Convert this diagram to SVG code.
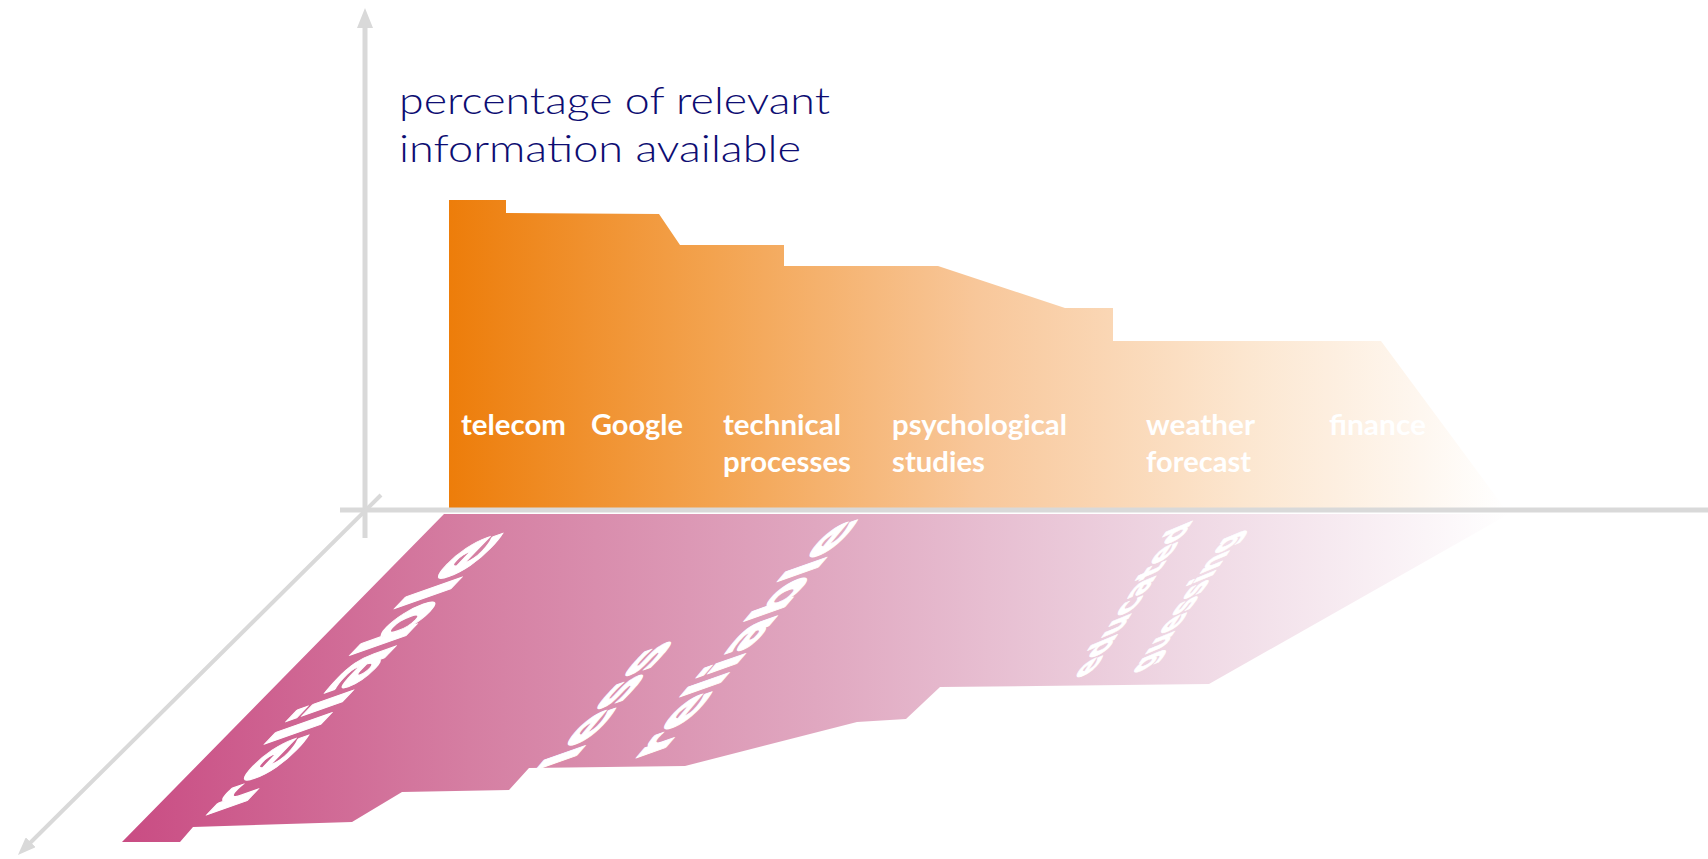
<svg xmlns="http://www.w3.org/2000/svg" width="1708" height="859" viewBox="0 0 1708 859">
<style>
.axis{stroke:#D9D9D9;fill:none;}
.lbl{font-family:Lato,"Liberation Sans",sans-serif;font-weight:700;font-size:29px;fill:#FFFFFF;}
.ttl{font-family:Lato,"Liberation Sans",sans-serif;font-weight:300;font-size:38px;fill:#0D0D72;}
.flr{font-family:"DejaVu Sans","Liberation Sans",sans-serif;font-weight:700;font-size:100px;fill:#FFFFFF;stroke:#FFFFFF;stroke-width:2.5;stroke-linejoin:round;}
</style>
<defs>
<linearGradient id="gOrange" gradientUnits="userSpaceOnUse" x1="449" y1="0" x2="1506" y2="0">
<stop offset="0" stop-color="#ED7D0A"/>
<stop offset="0.25" stop-color="#F3A34F"/>
<stop offset="0.5" stop-color="#F8C79A"/>
<stop offset="0.75" stop-color="#FCE6CF"/>
<stop offset="1" stop-color="#FFFFFF"/>
</linearGradient>
<linearGradient id="gPink" gradientUnits="userSpaceOnUse" x1="122" y1="0" x2="1509" y2="0">
<stop offset="0" stop-color="#C94C83"/>
<stop offset="0.25" stop-color="#D57EA2"/>
<stop offset="0.5" stop-color="#E0A7C0"/>
<stop offset="0.75" stop-color="#EED5E2"/>
<stop offset="1" stop-color="#FFFFFF"/>
</linearGradient>
<marker id="ahV" viewBox="0 0 20 16" refX="1" refY="8" markerWidth="20" markerHeight="16" markerUnits="userSpaceOnUse" orient="auto">
<path d="M0,0 L20,8 L0,16 Z" fill="#D9D9D9"/>
</marker>
<marker id="ahD" viewBox="0 0 18 14" refX="1" refY="7" markerWidth="18" markerHeight="14" markerUnits="userSpaceOnUse" orient="auto">
<path d="M0,0 L18,7 L0,14 Z" fill="#D9D9D9"/>
</marker>
</defs>
<rect x="0" y="0" width="1708" height="859" fill="#FFFFFF"/>

<g id="floor">
<polygon points="444,514 1509,514 1209,684 940,687 906,719 857,722 685,766 529,768 509,790 402,792 352,822 193,827 180,842 122,842" fill="url(#gPink)"/>
<text class="flr" x="0" y="0" transform="matrix(0.627,-0.652,0.738,-0.258,242,806)">reliable</text>
<text class="flr" x="0" y="0" transform="matrix(0.47,-0.555,0.54,-0.19,573,760)">less</text>
<text class="flr" x="0" y="0" transform="matrix(0.47,-0.555,0.54,-0.19,662,752)">reliable</text>
<text class="flr" x="0" y="0" transform="matrix(0.195,-0.295,0.35,-0.145,1092,673)">educated</text>
<text class="flr" x="0" y="0" transform="matrix(0.186,-0.275,0.35,-0.145,1150,668)">guessing</text>
</g>

<g id="profile">
<polygon points="449,200 506,200 506,213 659,214 680,245 784,245 784,266 938,266 1065,308 1113,308 1113,341 1381,341 1506,510 449,510" fill="url(#gOrange)"/>
<text class="lbl" x="461" y="435" textLength="105" lengthAdjust="spacingAndGlyphs">telecom</text>
<text class="lbl" x="591" y="435" textLength="92" lengthAdjust="spacingAndGlyphs">Google</text>
<text class="lbl" x="723" y="435" textLength="118" lengthAdjust="spacingAndGlyphs">technical</text>
<text class="lbl" x="723" y="472" textLength="128" lengthAdjust="spacingAndGlyphs">processes</text>
<text class="lbl" x="892" y="435" textLength="175" lengthAdjust="spacingAndGlyphs">psychological</text>
<text class="lbl" x="892" y="472" textLength="93" lengthAdjust="spacingAndGlyphs">studies</text>
<text class="lbl" x="1146" y="435" textLength="109" lengthAdjust="spacingAndGlyphs">weather</text>
<text class="lbl" x="1146" y="472" textLength="105" lengthAdjust="spacingAndGlyphs">forecast</text>
<text class="lbl" x="1329" y="435" textLength="97" lengthAdjust="spacingAndGlyphs">finance</text>
</g>

<g id="title">
<text class="ttl" x="399" y="114" textLength="431" lengthAdjust="spacingAndGlyphs">percentage of relevant</text>
<text class="ttl" x="399" y="162" textLength="402" lengthAdjust="spacingAndGlyphs">information available</text>
</g>

<g id="axes">
<line class="axis" x1="340" y1="510" x2="1708" y2="510" stroke-width="5"/>
<line class="axis" x1="365" y1="538" x2="365" y2="27" stroke-width="5" marker-end="url(#ahV)"/>
<line class="axis" x1="381" y1="495" x2="30" y2="843" stroke-width="4" marker-end="url(#ahD)"/>
</g>
</svg>
